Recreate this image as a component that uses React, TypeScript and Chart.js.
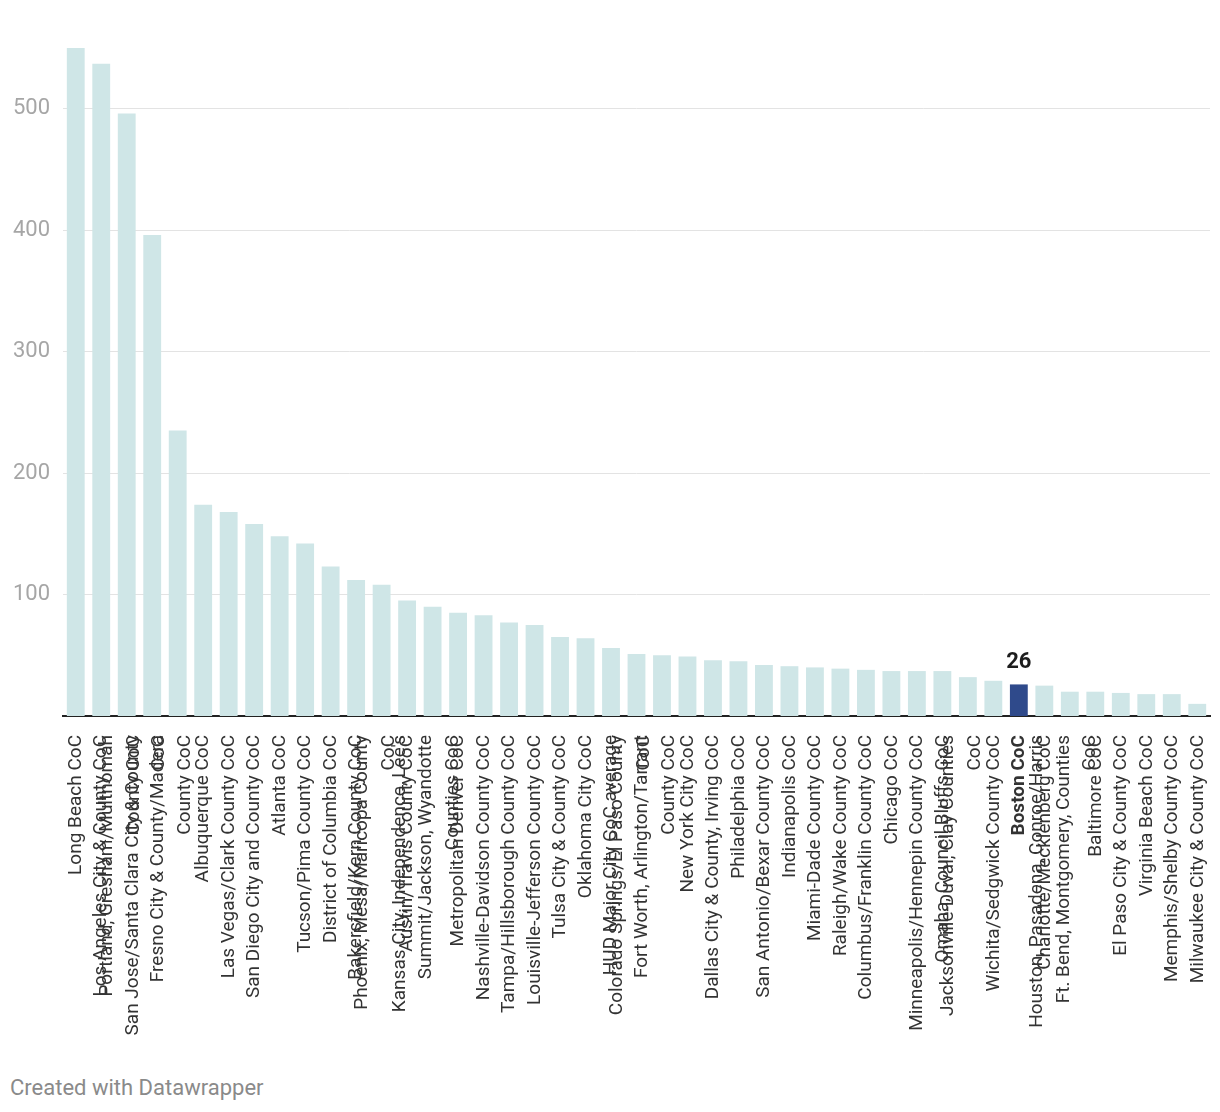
import React, { useEffect, useRef } from 'react';
import { Chart, registerables } from 'chart.js';

Chart.register(...registerables);

// Category labels (as wrapped in the original)
const categories: string[][] = [
  ['Long Beach CoC'],
  ['Los Angeles City & County CoC'],
  ['Portland, Gresham/Multnomah', 'County CoC'],
  ['San Jose/Santa Clara City & County', 'CoC'],
  ['Fresno City & County/Madera', 'County CoC'],
  ['Albuquerque CoC'],
  ['Las Vegas/Clark County CoC'],
  ['San Diego City and County CoC'],
  ['Atlanta CoC'],
  ['Tucson/Pima County CoC'],
  ['District of Columbia CoC'],
  ['Bakersfield/Kern County CoC'],
  ['Phoenix, Mesa/Maricopa County', 'CoC'],
  ['Austin/Travis County CoC'],
  ["Kansas City, Independence, Lee's", 'Summit/Jackson, Wyandotte', 'Counties CoC'],
  ['Metropolitan Denver CoC'],
  ['Nashville-Davidson County CoC'],
  ['Tampa/Hillsborough County CoC'],
  ['Louisville-Jefferson County CoC'],
  ['Tulsa City & County CoC'],
  ['Oklahoma City CoC'],
  ['HUD Major City CoC average'],
  ['Colorado Springs/El Paso County', 'CoC'],
  ['Fort Worth, Arlington/Tarrant', 'County CoC'],
  ['New York City CoC'],
  ['Dallas City & County, Irving CoC'],
  ['Philadelphia CoC'],
  ['San Antonio/Bexar County CoC'],
  ['Indianapolis CoC'],
  ['Miami-Dade County CoC'],
  ['Raleigh/Wake County CoC'],
  ['Columbus/Franklin County CoC'],
  ['Chicago CoC'],
  ['Minneapolis/Hennepin County CoC'],
  ['Omaha, Council Bluffs CoC'],
  ['Jacksonville-Duval, Clay Counties', 'CoC'],
  ['Wichita/Sedgwick County CoC'],
  ['Boston CoC'],
  ['Charlotte/Mecklenberg CoC'],
  ['Houston, Pasadena, Conroe/Harris', 'Ft. Bend, Montgomery, Counties', 'CoC'],
  ['Baltimore CoC'],
  ['El Paso City & County CoC'],
  ['Virginia Beach CoC'],
  ['Memphis/Shelby County CoC'],
  ['Milwaukee City & County CoC'],
];

// Series values
const values: number[] = [
  550, 537, 496, 396, 235, 174, 168, 158, 148, 142,
  123, 112, 108, 95, 90, 85, 83, 77, 75, 65,
  64, 56, 51, 50, 49, 46, 45, 42, 41, 40,
  39, 38, 37, 37, 37, 32, 29, 26, 25, 20,
  20, 19, 18, 18, 10,
];

const highlight = 'Boston CoC';
const yTicks: number[] = [100, 200, 300, 400, 500];
const yMax = 550;
const footer = 'Created with Datawrapper';

const FONT = 'Roboto, "Noto Sans", sans-serif';
const LIGHT = '#cfe6e7';
const DARK = '#2f4a8b';
const LINE_H = 26.5;

export default function App() {
  const ref = useRef<HTMLCanvasElement>(null);

  useEffect(() => {
    let chart: Chart | null = null;
    let cancelled = false;
    const names = categories.map((l) => l.join(' '));
    const hi = names.indexOf(highlight);

    const labelPlugin = {
      id: 'xlabels',
      afterDraw(c: any) {
        const ctx = c.ctx as CanvasRenderingContext2D;
        const xs = c.scales.x;
        const area = c.chartArea;
        ctx.save();
        ctx.fillStyle = '#333333';
        ctx.textAlign = 'right';
        ctx.textBaseline = 'middle';
        categories.forEach((lines, i) => {
          const px = xs.getPixelForTick(i);
          const n = lines.length;
          const off = n === 1 ? 0.5 : -6;
          ctx.font = `${i === hi ? 'bold ' : ''}19px ${FONT}`;
          lines.forEach((line, j) => {
            const cx = px + off + (j - (n - 1) / 2) * LINE_H;
            ctx.save();
            ctx.translate(cx, area.bottom + 19);
            ctx.rotate(-Math.PI / 2);
            ctx.fillText(line, 0, 0);
            ctx.restore();
          });
        });
        const bar = c.getDatasetMeta(0).data[hi];
        if (bar) {
          ctx.font = `bold 22px ${FONT}`;
          ctx.fillStyle = '#1d1d1d';
          ctx.textAlign = 'center';
          ctx.textBaseline = 'alphabetic';
          ctx.fillText(String(values[hi]), bar.x, bar.y - 16);
        }
        ctx.restore();
      },
    };

    const make = () => {
      if (cancelled || !ref.current) return;
      chart = new Chart(ref.current, {
        type: 'bar',
        data: {
          labels: names,
          datasets: [
            {
              data: values,
              backgroundColor: names.map((_, i) => (i === hi ? DARK : LIGHT)),
              borderWidth: 0,
              barPercentage: 0.7,
              categoryPercentage: 1,
            },
          ],
        },
        options: {
          responsive: false,
          animation: false,
          devicePixelRatio: 1,
          layout: { padding: { top: 48, right: 10, left: 0, bottom: 0 } },
          plugins: {
            legend: { display: false },
            tooltip: { enabled: false },
          },
          scales: {
            x: {
              type: 'category',
              z: 1,
              grid: { display: false, drawTicks: false },
              border: { display: true, color: '#222222', width: 2 },
              ticks: { display: false },
              afterFit: (s: any) => {
                s.height = 344;
              },
            },
            y: {
              min: 0,
              max: yMax,
              border: { display: false },
              grid: { color: '#e3e3e3', lineWidth: 1, drawTicks: false },
              ticks: {
                padding: 13,
                color: '#a6a6a6',
                font: { family: FONT, size: 22 },
              },
              afterBuildTicks: (s: any) => {
                s.ticks = yTicks.map((v) => ({ value: v }));
              },
              afterFit: (s: any) => {
                s.width = 63;
              },
            },
          },
        },
        plugins: [labelPlugin],
      } as any);
    };

    const fonts: any = (document as any).fonts;
    if (fonts && fonts.load) {
      Promise.all([
        fonts.load(`19px Roboto`),
        fonts.load(`bold 19px Roboto`),
        fonts.load(`22px Roboto`),
      ])
        .catch(() => null)
        .then(make);
    } else {
      make();
    }

    return () => {
      cancelled = true;
      if (chart) chart.destroy();
    };
  }, []);

  return (
    <div style={{ position: 'absolute', left: 0, top: 0, width: 1220, height: 1112, background: '#fff' }}>
      <canvas ref={ref} width={1220} height={1060} style={{ display: 'block', width: 1220, height: 1060 }} />
      <div
        style={{
          position: 'absolute',
          left: 10,
          top: 1077,
          fontFamily: FONT,
          fontSize: 22,
          lineHeight: '22px',
          color: '#8a8a8a',
          whiteSpace: 'nowrap',
        }}
      >
        {footer}
      </div>
    </div>
  );
}
